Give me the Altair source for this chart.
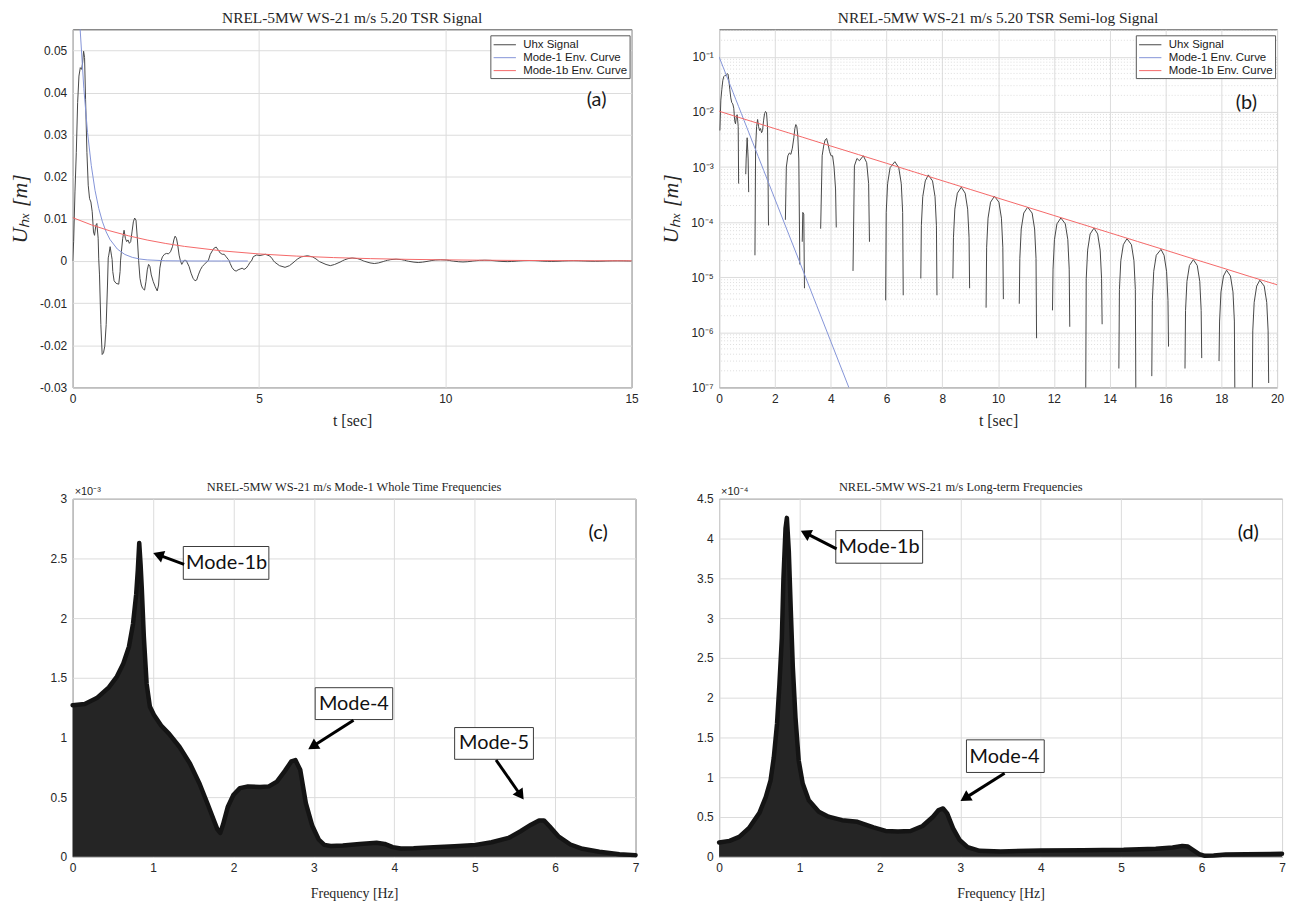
import math
import altair as alt
import pandas as pd

FONT_SANS = "Liberation Sans"
FONT_SERIF = "Liberation Serif"
FONT_NOTE = "Lato"
INK = "#262626"

# ---------------- legend series ----------------
SERIES = ["Uhx Signal", "Mode-1 Env. Curve", "Mode-1b Env. Curve"]
SERIES_COLORS = ["#474747", "#8494d8", "#f46868"]

sig_t_early = [0, 0.027, 0.062, 0.098, 0.134, 0.169, 0.205, 0.24, 0.267, 0.294,
               0.32, 0.347, 0.383, 0.418, 0.454, 0.49, 0.525, 0.56, 0.587, 0.623,
               0.65, 0.685, 0.70, 0.721, 0.757, 0.792, 0.828, 0.863, 0.90, 0.935,
               0.955, 0.97, 1.006, 1.041, 1.06, 1.077, 1.113, 1.166, 1.237, 1.273,
               1.285, 1.308, 1.344, 1.38, 1.415, 1.45, 1.486, 1.522, 1.558, 1.593,
               1.629, 1.664, 1.70, 1.736, 1.771, 1.807, 1.842, 1.878, 1.93, 1.967,
               2.003, 2.038, 2.074, 2.11, 2.163, 2.216, 2.27, 2.305, 2.34, 2.376,
               2.41, 2.465, 2.519, 2.572, 2.626, 2.679, 2.715, 2.75, 2.786, 2.82,
               2.857, 2.893, 2.928, 2.96, 2.98, 3.0, 3.035, 3.06, 3.07, 3.124,
               3.178, 3.231, 3.284, 3.329, 3.373, 3.427, 3.48, 3.534, 3.587, 3.64,
               3.694, 3.747, 3.80, 3.854, 3.907, 3.96, 4.014, 4.068, 4.12, 4.174,
               4.20, 4.228, 4.28, 4.335, 4.388, 4.44, 4.495, 4.548, 4.60, 4.655,
               4.708, 4.76, 4.80, 4.85, 4.94, 5.03, 5.17, 5.29, 5.36, 5.39,
               5.42, 5.55, 5.70, 5.82, 5.94]
sig_u_early = [0, 0.0046, 0.0164, 0.0258, 0.0376, 0.0439, 0.0459, 0.0455, 0.047, 0.0498,
               0.0483, 0.0384, 0.0258, 0.018, 0.0148, 0.014, 0.0117, 0.0069, 0.0061, 0.0085,
               0.0089, 0.0054, 0.0005, -0.0033, -0.0151, -0.0222, -0.0218, -0.0202, -0.0151, -0.0057,
               0.00074, 0.0014, 0.0034, 0.0014, 0.00035, -0.0025, -0.0047, -0.0053, -0.0055, -0.0025,
               0.000025, 0.0022, 0.0054, 0.0073, 0.0054, 0.0046, 0.005, 0.0042, 0.0046, 0.0069,
               0.0093, 0.0102, 0.0097, 0.0054, 0.000087, -0.0041, -0.0057, -0.0065, -0.0069, -0.0049,
               -0.0021, -0.0008, -0.0013, -0.0033, -0.0049, -0.0061, -0.0071, -0.0057, -0.0017, 0.00011,
               0.001, 0.0016, 0.0018, 0.0017, 0.0022, 0.0034, 0.005, 0.0059, 0.0054, 0.0038,
               0.0014, 0.000017, -0.0008, -0.0003, 0.000044, 0.00015, 0.00014, 0.0000063, -0.0003, -0.0013,
               -0.0029, -0.0041, -0.0047, -0.0045, -0.0033, -0.0021, -0.0013, -0.0008, -0.0003, 0.000076,
               0.0016, 0.0024, 0.0031, 0.0033, 0.0026, 0.0019, 0.0016, 0.0016, 0.001, 0.0004,
               0.00008, -0.0006, -0.0016, -0.0022, -0.0024, -0.0021, -0.0019, -0.0017, -0.002, -0.0017,
               -0.0011, -0.0003, 0.000013, 0.00105, 0.00143, 0.0013, 0.0016, 0.0012, 0.0005, 0.000044,
               -0.00025, -0.0011, -0.0015, -0.0011, -0.00025]

sig_t_tail = [5.97, 5.99, 6.04, 6.13, 6.30, 6.44, 6.53, 6.58, 6.60,
              6.63, 6.80, 6.915, 7.03, 7.20,
              7.23, 7.25, 7.30, 7.39, 7.50, 7.65, 7.74, 7.79, 7.81,
              7.84, 7.98, 8.095, 8.21, 8.35,
              8.38, 8.40, 8.45, 8.54, 8.68, 8.82, 8.91, 8.96, 8.98,
              9.01, 9.16, 9.275, 9.39, 9.54,
              9.57, 9.59, 9.64, 9.73, 9.87, 10.03, 10.12, 10.17, 10.19,
              10.22, 10.36, 10.475, 10.59, 10.73,
              10.76, 10.78, 10.83, 10.92, 11.06, 11.22, 11.31, 11.36, 11.38,
              11.41, 11.55, 11.665, 11.78, 11.92,
              11.95, 11.97, 12.02, 12.11, 12.25, 12.41, 12.50, 12.55, 12.57,
              12.60, 12.74, 12.855, 12.97, 13.11,
              13.14, 13.16, 13.21, 13.30, 13.44, 13.57, 13.66, 13.71, 13.73,
              13.76, 13.91, 14.03, 14.15, 14.30,
              14.33, 14.35, 14.40, 14.49, 14.62, 14.78, 14.87, 14.92, 14.94,
              14.97, 15.11, 15.225, 15.34, 15.48,
              15.51, 15.53, 15.58, 15.67, 15.84, 15.95, 16.04, 16.09, 16.11,
              16.14, 16.29, 16.405, 16.52, 16.67,
              16.70, 16.72, 16.77, 16.86, 17.00, 17.14, 17.23, 17.28, 17.30,
              17.33, 17.49, 17.61, 17.73, 17.89,
              17.92, 17.94, 17.99, 18.08, 18.19, 18.33, 18.42, 18.47, 18.49,
              18.52, 18.68, 18.80, 18.92, 19.08,
              19.11, 19.13, 19.18, 19.27, 19.38, 19.54, 19.63, 19.68, 19.70,
              19.73, 19.88, 20.0]
sig_u_tail = [3.8e-6, 1.5e-4, 5.0e-4, 9.75e-4, 1.25e-3, 9.75e-4, 5.0e-4, 1.5e-4, 4.7e-6,
              -1.65e-4, -8.25e-4, -1.1e-3, -8.25e-4, -1.65e-4,
              9.5e-6, 8.6e-5, 2.9e-4, 5.6e-4, 7.2e-4, 5.6e-4, 2.9e-4, 8.6e-5, 4.7e-6,
              -9e-5, -4.5e-4, -6e-4, -4.5e-4, -9e-5,
              9.5e-6, 5.2e-5, 1.72e-4, 3.35e-4, 4.3e-4, 3.35e-4, 1.72e-4, 5.2e-5, 6.3e-6,
              -5.4e-5, -2.7e-4, -3.6e-4, -2.7e-4, -5.4e-5,
              2.8e-6, 3.5e-5, 1.18e-4, 2.3e-4, 2.95e-4, 2.3e-4, 1.18e-4, 3.5e-5, 4.0e-6,
              -3.5e-5, -1.7e-4, -2.3e-4, -1.7e-4, -3.5e-5,
              3.3e-6, 2.2e-5, 7.5e-5, 1.46e-4, 1.87e-4, 1.46e-4, 7.5e-5, 2.2e-5, 7.8e-7,
              -2.2e-5, -1.1e-4, -1.5e-4, -1.1e-4, -2.2e-5,
              2.5e-6, 1.4e-5, 4.8e-5, 9.3e-5, 1.19e-4, 9.3e-5, 4.8e-5, 1.4e-5, 1.26e-6,
              -1.4e-5, -7.1e-5, -9.5e-5, -7.1e-5, -1.4e-5,
              5e-8, 9.4e-6, 3.1e-5, 6.1e-5, 7.8e-5, 6.1e-5, 3.1e-5, 9.4e-6, 1.4e-6,
              -9.3e-6, -4.6e-5, -6.2e-5, -4.6e-5, -9.3e-6,
              2.2e-7, 6e-6, 2e-5, 3.9e-5, 5.0e-5, 3.9e-5, 2e-5, 6e-6, 5e-8,
              -6e-6, -3e-5, -4e-5, -3e-5, -6e-6,
              1.6e-7, 3.8e-6, 1.28e-5, 2.5e-5, 3.2e-5, 2.5e-5, 1.28e-5, 3.8e-6, 5.5e-7,
              -3.9e-6, -1.95e-5, -2.6e-5, -1.95e-5, -3.9e-6,
              2.2e-7, 2.5e-6, 8.4e-6, 1.63e-5, 2.09e-5, 1.63e-5, 8.4e-6, 2.5e-6, 3.4e-7,
              -2.6e-6, -1.3e-5, -1.7e-5, -1.3e-5, -2.6e-6,
              3.0e-7, 1.6e-6, 5.4e-6, 1.05e-5, 1.34e-5, 1.05e-5, 5.4e-6, 1.6e-6, 5e-8,
              -1.7e-6, -8.3e-6, -1.1e-5, -8.3e-6, -1.7e-6,
              5e-8, 1.06e-6, 3.5e-6, 6.9e-6, 8.8e-6, 6.9e-6, 3.5e-6, 1.06e-6, 1.2e-7,
              -1.1e-6, -5.5e-6, -7e-6]

# ---------------- envelope curves ----------------
env1_t = [0, 0.1, 0.2, 0.3, 0.4, 0.5, 0.6, 0.7, 0.8, 0.9, 1.0, 1.2, 1.4, 1.6, 1.8,
          2.0, 2.5, 3.0, 3.5, 4.0, 4.7]
env1_u = [0.1, 0.0743, 0.0552, 0.041, 0.0305, 0.0227, 0.0168, 0.0125, 0.0093, 0.0069,
          0.00513, 0.00283, 0.00156, 0.000865, 0.000477, 0.000263, 0.0000594,
          0.0000135, 0.00000304, 0.00000069, 0.000000086]
env1b_t = [0, 0.5, 1, 1.5, 2, 2.5, 3, 4, 5, 6, 7, 8, 9, 10, 11, 12, 13, 14, 15,
           16, 17, 18, 19, 20]
env1b_u = [0.0103, 0.00859, 0.00716, 0.00598, 0.00498, 0.00416, 0.00347, 0.00241,
           0.00168, 0.00117, 0.000812, 0.000565, 0.000393, 0.000273, 0.00019,
           0.000132, 0.000092, 0.000064, 0.0000445, 0.000031, 0.0000215,
           0.000015, 0.0000104, 0.0000073]

# ---------------- spectra (c) x1e-3 and (d) x1e-4 ----------------
spec_c_f = [0.00, 0.15, 0.30, 0.45, 0.55, 0.63, 0.70, 0.75, 0.79, 0.81,
            0.828, 0.845, 0.86, 0.885, 0.92, 0.96, 1.01, 1.10, 1.20, 1.33,
            1.46, 1.58, 1.68, 1.76, 1.80, 1.835, 1.87, 1.93, 2.00, 2.08,
            2.18, 2.33, 2.44, 2.54, 2.64, 2.72, 2.77, 2.83, 2.90, 2.98,
            3.06, 3.13, 3.21, 3.36, 3.57, 3.78, 3.88, 3.98, 4.08, 4.24,
            4.49, 4.75, 5.01, 5.21, 5.42, 5.57, 5.70, 5.80, 5.86, 5.93,
            6.04, 6.19, 6.34, 6.55, 6.80, 7.00]
spec_c_a = [1.27, 1.28, 1.33, 1.42, 1.51, 1.62, 1.76, 1.95, 2.20, 2.40,
            2.63, 2.45, 2.25, 1.85, 1.45, 1.26, 1.19, 1.10, 1.03, 0.92,
            0.78, 0.61, 0.44, 0.30, 0.23, 0.20, 0.27, 0.42, 0.52, 0.575,
            0.59, 0.585, 0.59, 0.63, 0.72, 0.80, 0.81, 0.73, 0.45, 0.26,
            0.145, 0.10, 0.09, 0.095, 0.108, 0.117, 0.108, 0.081, 0.069, 0.072,
            0.081, 0.089, 0.10, 0.122, 0.158, 0.214, 0.269, 0.305, 0.305, 0.256,
            0.172, 0.103, 0.067, 0.042, 0.022, 0.014]
spec_d_f = [0.00, 0.13, 0.25, 0.37, 0.50, 0.58, 0.64, 0.68, 0.72, 0.75,
            0.78, 0.80, 0.826, 0.843, 0.867, 0.892, 0.917, 0.95, 0.99, 1.04,
            1.115, 1.24, 1.36, 1.53, 1.72, 1.92, 2.07, 2.225, 2.38, 2.53,
            2.66, 2.73, 2.785, 2.836, 2.91, 2.99, 3.09, 3.24, 3.50, 4.00,
            4.52, 5.03, 5.43, 5.64, 5.76, 5.83, 5.89, 5.97, 6.04, 6.15,
            6.30, 6.55, 7.00]
spec_d_a = [0.18, 0.20, 0.25, 0.36, 0.55, 0.75, 0.96, 1.25, 1.67, 2.17,
            2.75, 3.50, 4.13, 4.26, 3.84, 3.09, 2.38, 1.75, 1.21, 0.92,
            0.71, 0.567, 0.504, 0.46, 0.44, 0.37, 0.325, 0.317, 0.325, 0.387,
            0.504, 0.588, 0.608, 0.546, 0.358, 0.213, 0.121, 0.075, 0.067, 0.079,
            0.083, 0.0875, 0.10, 0.117, 0.1375, 0.13, 0.0875, 0.033, 0.0125, 0.017,
            0.029, 0.033, 0.0375]

# ---------------- annotations ----------------
note_c_text = ["Mode-1b", "Mode-4", "Mode-5", "(c)"]
note_c_f = [1.915, 3.497, 5.24, 6.535]
note_c_a = [2.46, 1.283, 0.95, 2.713]
box_c_f = [1.376, 3.016, 4.75]
box_c_f2 = [2.44, 3.98, 5.73]
box_c_a = [2.60, 1.417, 1.083]
box_c_a2 = [2.325, 1.15, 0.817]
arrow_c_tail_f = [1.386, 3.493, 5.265]
arrow_c_tail_a = [2.45, 1.144, 0.811]
arrow_c_tip_f = [1.0, 2.928, 5.61]
arrow_c_tip_a = [2.546, 0.90, 0.478]

note_d_text = ["Mode-1b", "Mode-4", "(d)"]
note_d_f = [1.99, 3.55, 6.58]
note_d_a = [3.89, 1.26, 4.07]
box_d_f = [1.451, 3.076]
box_d_f2 = [2.531, 4.043]
box_d_a = [4.10, 1.47]
box_d_a2 = [3.69, 1.06]
arrow_d_tail_f = [1.461, 3.55]
arrow_d_tail_a = [3.87, 1.05]
arrow_d_tip_f = [1.014, 3.0]
arrow_d_tip_a = [4.10, 0.70]

W_A, W_B, W_C, W_D, H = 562, 561, 566, 566, 360

sig_t = sig_t_early + sig_t_tail
sig_u = sig_u_early + sig_u_tail


def legend_spec(width):
    return alt.Legend(title=None, orient="none", legendX=width - 142, legendY=6, padding=2,
                      fillColor="white", strokeColor="#595959", cornerRadius=0,
                      symbolType="M-1.6,0L1.6,0", symbolSize=196, symbolStrokeWidth=1,
                      symbolOffset=5, labelOffset=11,
                      labelFont=FONT_SANS, labelFontSize=11.5, labelColor="#1a1a1a",
                      rowPadding=0)


def color_enc(width):
    return alt.Color("series:N", scale=alt.Scale(domain=SERIES, range=SERIES_COLORS),
                     legend=legend_spec(width))


# ================= panel (a) =================
df_a = pd.concat([
    pd.DataFrame({"t": sig_t, "u": sig_u, "series": SERIES[0]}),
    pd.DataFrame({"t": env1_t, "u": env1_u, "series": SERIES[1]}),
    pd.DataFrame({"t": env1b_t, "u": env1b_u, "series": SERIES[2]}),
], ignore_index=True)

x_a = alt.X("t:Q", scale=alt.Scale(domain=[0, 15], nice=False, zero=False),
            axis=alt.Axis(values=[0, 5, 10, 15], title="t [sec]", titleFontSize=16,
                          labelFlush=False, titlePadding=8))
y_a = alt.Y("u:Q", scale=alt.Scale(domain=[-0.03, 0.055], nice=False, zero=False),
            axis=alt.Axis(values=[-0.03, -0.02, -0.01, 0, 0.01, 0.02, 0.03, 0.04, 0.05],
                          labelExpr="replace(format(datum.value, '.2~f'), '\u2212', '-')",
                          title="U\u2095\u2093 [m]", titleFontSize=22, titleFontStyle="italic",
                          titlePadding=8))

lines_a = alt.Chart(df_a).mark_line(strokeWidth=1, clip=True).encode(
    x=x_a, y=y_a, color=color_enc(W_A))
tag_a = alt.Chart(pd.DataFrame({"t": [14.06], "u": [0.0382], "txt": ["(a)"]})).mark_text(
    font=FONT_NOTE, fontSize=20, color="#1a1a1a").encode(x=x_a, y=y_a, text="txt:N")
panel_a = alt.layer(lines_a, tag_a).properties(
    width=W_A, height=H,
    title=alt.TitleParams("NREL-5MW WS-21 m/s 5.20 TSR Signal", fontSize=15.5, offset=3))

# ================= panel (b) =================
rows_b = []
seg = 0
prev_pos = False
for t, u in zip(sig_t, sig_u):
    if u > 0:
        if not prev_pos:
            seg += 1
        rows_b.append({"t": t, "u": u, "series": SERIES[0], "seg": "s%d" % seg})
        prev_pos = True
    else:
        prev_pos = False
for t, u in zip(env1_t, env1_u):
    rows_b.append({"t": t, "u": u, "series": SERIES[1], "seg": "e1"})
for t, u in zip(env1b_t, env1b_u):
    rows_b.append({"t": t, "u": u, "series": SERIES[2], "seg": "e1b"})
df_b = pd.DataFrame(rows_b)

SUP = {1: "\u00b9", 2: "\u00b2", 3: "\u00b3", 4: "\u2074", 5: "\u2075", 6: "\u2076", 7: "\u2077"}
log_ticks = [10.0 ** (-k) for k in range(7, 0, -1)]
expr = "'10\u207b%s'" % SUP[7]
for k in range(6, 0, -1):
    expr = "datum.value > %g ? '10\u207b%s' : %s" % (0.5 * 10.0 ** (-k), SUP[k], expr)

x_b = alt.X("t:Q", scale=alt.Scale(domain=[0, 20], nice=False, zero=False),
            axis=alt.Axis(values=list(range(0, 21, 2)), title="t [sec]", titleFontSize=16,
                          labelFlush=False, titlePadding=8))
y_b = alt.Y("u:Q", scale=alt.Scale(type="log", domain=[1e-7, 0.316], nice=False),
            axis=alt.Axis(values=log_ticks, labelExpr=expr,
                          title="U\u2095\u2093 [m]", titleFontSize=22, titleFontStyle="italic",
                          titlePadding=8))

minor_vals = [m * 10.0 ** (-k) for k in range(7, 1, -1) for m in range(2, 10)] + [0.2, 0.3]
minor_b = alt.Chart(pd.DataFrame({"u": minor_vals})).mark_rule(
    color="#d6d6d6", strokeWidth=0.8, strokeDash=[1, 2]).encode(y=y_b)
lines_b = alt.Chart(df_b).mark_line(strokeWidth=1, clip=True).encode(
    x=x_b, y=y_b, color=color_enc(W_B), detail="seg:N")
tag_b = alt.Chart(pd.DataFrame({"t": [18.9], "u": [0.0148], "txt": ["(b)"]})).mark_text(
    font=FONT_NOTE, fontSize=20, color="#1a1a1a").encode(x=x_b, y=y_b, text="txt:N")
panel_b = alt.layer(minor_b, lines_b, tag_b).properties(
    width=W_B, height=H,
    title=alt.TitleParams("NREL-5MW WS-21 m/s 5.20 TSR Semi-log Signal", fontSize=15.5,
                          offset=3))


# ================= spectra panels =================
def arrow_frames(tail_x, tail_y, tip_x, tip_y, xdom, ydom, W, Hh):
    sx = W / (xdom[1] - xdom[0])
    sy = Hh / (ydom[1] - ydom[0])
    shafts, heads = [], []
    for x0, y0, x1, y1 in zip(tail_x, tail_y, tip_x, tip_y):
        px0, py0 = (x0 - xdom[0]) * sx, (ydom[1] - y0) * sy
        px1, py1 = (x1 - xdom[0]) * sx, (ydom[1] - y1) * sy
        dx, dy = px1 - px0, py1 - py0
        L = math.hypot(dx, dy)
        ux, uy = dx / L, dy / L
        ang = math.degrees(math.atan2(ux, -uy)) % 360
        hx, hy = px1 - ux * 5.5, py1 - uy * 5.5
        ex, ey = px1 - ux * 8, py1 - uy * 8
        shafts.append({"f": x0, "a": y0, "f2": xdom[0] + ex / sx, "a2": ydom[1] - ey / sy})
        heads.append({"f": xdom[0] + hx / sx, "a": ydom[1] - hy / sy, "ang": ang})
    return pd.DataFrame(shafts), pd.DataFrame(heads)


def spectrum_panel(f, a, ymax, yticks, exp_label, title, title_dx, W,
                   box_f, box_f2, box_a, box_a2, at_f, at_a, ap_f, ap_a,
                   note_txt, note_f, note_a):
    x_s = alt.X("f:Q", scale=alt.Scale(domain=[0, 7], nice=False, zero=False),
                axis=alt.Axis(values=list(range(0, 8)), title="Frequency [Hz]",
                              titleFontSize=14, labelFlush=False, titlePadding=13))
    y_s = alt.Y("a:Q", scale=alt.Scale(domain=[0, ymax], nice=False, zero=True),
                axis=alt.Axis(values=yticks, format="~g", title=None))
    df = pd.DataFrame({"f": f, "a": a})
    area = alt.Chart(df).mark_area(color="#252525", opacity=1).encode(x=x_s, y=y_s)
    edge = alt.Chart(df).mark_line(color="#141414", strokeWidth=4.5, strokeJoin="round",
                                   strokeCap="round").encode(x=x_s, y=y_s)
    boxes = alt.Chart(pd.DataFrame({"f": box_f, "f2": box_f2, "a": box_a, "a2": box_a2})).mark_rect(
        fill="white", stroke="#3a3a3a", strokeWidth=1).encode(x=x_s, x2="f2:Q", y=y_s, y2="a2:Q")
    shafts, heads = arrow_frames(at_f, at_a, ap_f, ap_a, [0, 7], [0, ymax], W, H)
    shaft = alt.Chart(shafts).mark_rule(color="black", strokeWidth=3).encode(
        x=x_s, x2="f2:Q", y=y_s, y2="a2:Q")
    head = alt.Chart(heads).mark_point(shape="triangle-up", filled=True, color="black",
                                       opacity=1, size=150).encode(
        x=x_s, y=y_s, angle=alt.Angle("ang:Q", scale=None))
    notes = alt.Chart(pd.DataFrame({"f": note_f, "a": note_a, "txt": note_txt})).mark_text(
        font=FONT_NOTE, fontSize=20, color="#111111").encode(x=x_s, y=y_s, text="txt:N")
    expo = alt.Chart(pd.DataFrame({"f": [0], "a": [ymax], "txt": [exp_label]})).mark_text(
        font=FONT_SANS, fontSize=11, color=INK, align="left", baseline="bottom",
        dx=2, dy=-2).encode(x=x_s, y=y_s, text="txt:N")
    head_title = alt.Chart(pd.DataFrame({"f": [3.5], "a": [ymax], "txt": [title]})).mark_text(
        font=FONT_SERIF, fontSize=12.5, color=INK, align="center", baseline="bottom",
        dx=title_dx, dy=-5).encode(x=x_s, y=y_s, text="txt:N")
    return alt.layer(area, edge, boxes, shaft, head, notes, expo, head_title).properties(
        width=W, height=H)


panel_c = spectrum_panel(spec_c_f, spec_c_a, 3, [0, 0.5, 1, 1.5, 2, 2.5, 3], "\u00d710\u207b\u00b3",
                         "NREL-5MW WS-21 m/s Mode-1 Whole Time Frequencies", 0, W_C,
                         box_c_f, box_c_f2, box_c_a, box_c_a2,
                         arrow_c_tail_f, arrow_c_tail_a, arrow_c_tip_f, arrow_c_tip_a,
                         note_c_text, note_c_f, note_c_a)
panel_d = spectrum_panel(spec_d_f, spec_d_a, 4.5, [0, 0.5, 1, 1.5, 2, 2.5, 3, 3.5, 4, 4.5],
                         "\u00d710\u207b\u2074",
                         "NREL-5MW WS-21 m/s Long-term Frequencies", -40, W_D,
                         box_d_f, box_d_f2, box_d_a, box_d_a2,
                         arrow_d_tail_f, arrow_d_tail_a, arrow_d_tip_f, arrow_d_tip_a,
                         note_d_text, note_d_f, note_d_a)

chart = alt.concat(panel_a, panel_b, panel_c, panel_d, columns=2,
                   spacing={"row": 51, "column": 19}).resolve_scale(
    color="independent").properties(padding=0).configure(
    background="white").configure_view(
    stroke="#4d4d4d", strokeWidth=1).configure_axis(
    grid=True, gridColor="#dcdcdc", gridWidth=1, domain=False, ticks=False,
    labelFont=FONT_SANS, labelFontSize=12, labelColor=INK, labelPadding=6,
    titleFont=FONT_SERIF, titleFontWeight="normal", titleColor=INK).configure_title(
    font=FONT_SERIF, fontWeight="normal", color=INK, anchor="middle")

chart.save("out.html", embed_options={"renderer": "svg", "actions": False})
